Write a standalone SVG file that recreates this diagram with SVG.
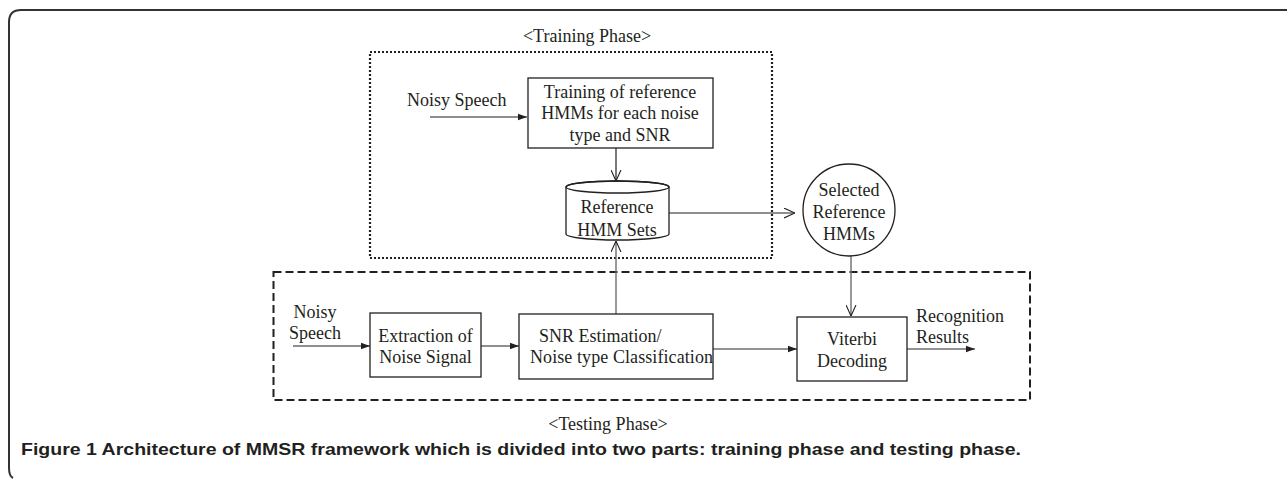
<svg xmlns="http://www.w3.org/2000/svg" width="1287" height="479" viewBox="0 0 1287 479">
<defs>
<style>
.t{font-family:"Liberation Serif","Times New Roman",serif;font-size:18px;fill:#231f20}
.tc{text-anchor:middle}
.box{fill:#fff;stroke:#231f20;stroke-width:1.3}
.c{fill:none;stroke:#231f20;stroke-width:1.2}
.cg{fill:none;stroke:#6d6e71;stroke-width:1.4}
.cap{font-family:"Liberation Sans",Arial,sans-serif;font-size:16.5px;font-weight:bold;fill:#231f20}
</style>
<marker id="fa" viewBox="0 0 10 10" refX="10" refY="5" markerWidth="9" markerHeight="9" markerUnits="userSpaceOnUse" orient="auto">
<path d="M0,1.5 L10,5 L0,8.5 Z" fill="#231f20"/>
</marker>
<marker id="oa" viewBox="0 0 10 10" refX="10" refY="5" markerWidth="11" markerHeight="11" markerUnits="userSpaceOnUse" orient="auto">
<path d="M0,0.5 L10,5 L0,9.5" fill="none" stroke="#231f20" stroke-width="1"/>
</marker>
</defs>
<rect width="1287" height="479" fill="#fff"/>
<path d="M1287,10 H21 Q9,10 9,22 V468 Q9,476 13,478" fill="none" stroke="#333" stroke-width="2"/>

<g id="training-phase">
<rect x="370" y="52" width="402" height="206" fill="none" stroke="#231f20" stroke-width="2.2" stroke-dasharray="2,2"/>
<text class="t tc" x="587" y="42">&lt;Training Phase&gt;</text>
</g>
<g id="testing-phase">
<rect x="273.5" y="272" width="756.5" height="128" fill="none" stroke="#231f20" stroke-width="2" stroke-dasharray="8,4"/>
<text class="t tc" x="608" y="430">&lt;Testing Phase&gt;</text>
</g>

<g id="connectors">
<path class="c" d="M430,117 H527" marker-end="url(#fa)"/>
<path class="c" d="M616,148 V181" marker-end="url(#oa)"/>
<path class="c" d="M669,213 H795" marker-end="url(#oa)"/>
<path class="cg" d="M616,314 V241" marker-end="url(#oa)"/>
<path class="cg" d="M851,256 V316" marker-end="url(#oa)"/>
<path class="c" d="M293,346 H370" marker-end="url(#fa)"/>
<path class="c" d="M481,346 H519" marker-end="url(#fa)"/>
<path class="cg" d="M713,349 H797" marker-end="url(#fa)"/>
<path class="cg" d="M907,349 H975" marker-end="url(#fa)"/>
</g>

<g id="noisy-speech-train">
<text class="t" x="407" y="106">Noisy Speech</text>
</g>
<g id="training-box">
<rect class="box" x="528" y="78" width="185" height="70"/>
<text class="t tc" x="620" y="98">Training of reference</text>
<text class="t tc" x="620" y="119">HMMs for each noise</text>
<text class="t tc" x="620" y="141">type and SNR</text>
</g>
<g id="reference-hmm-sets">
<path class="box" d="M566,187 V234 A51.5,6 0 0 0 669,234 V187 A51.5,6 0 0 0 566,187 Z"/>
<ellipse cx="617.5" cy="187" rx="51.5" ry="6" fill="none" stroke="#231f20" stroke-width="1.3"/>
<text class="t tc" x="617" y="213">Reference</text>
<text class="t tc" x="617" y="236">HMM Sets</text>
</g>
<g id="selected-reference-hmms">
<circle class="box" cx="849" cy="210" r="46"/>
<text class="t tc" x="849" y="196">Selected</text>
<text class="t tc" x="849" y="218">Reference</text>
<text class="t tc" x="849" y="240">HMMs</text>
</g>
<g id="noisy-speech-test">
<text class="t tc" x="315" y="318">Noisy</text>
<text class="t tc" x="315" y="339">Speech</text>
</g>
<g id="extraction">
<rect class="box" x="370" y="313" width="111" height="64"/>
<text class="t tc" x="425.5" y="342">Extraction of</text>
<text class="t tc" x="425.5" y="363">Noise Signal</text>
</g>
<g id="snr-estimation">
<rect class="box" x="519" y="314" width="194" height="65"/>
<text class="t" x="539" y="342">SNR Estimation/</text>
<text class="t" x="530" y="363" textLength="183">Noise type Classification</text>
</g>
<g id="viterbi">
<rect class="box" x="797" y="317" width="110" height="64"/>
<text class="t tc" x="852" y="345">Viterbi</text>
<text class="t tc" x="852" y="367">Decoding</text>
</g>
<g id="recognition-results">
<text class="t" x="916" y="322">Recognition</text>
<text class="t" x="916" y="343">Results</text>
</g>
<text class="cap" x="21" y="455" textLength="1000" lengthAdjust="spacingAndGlyphs">Figure 1 <tspan>Architecture of MMSR framework which is divided into two parts: training phase and testing phase.</tspan></text>
</svg>
